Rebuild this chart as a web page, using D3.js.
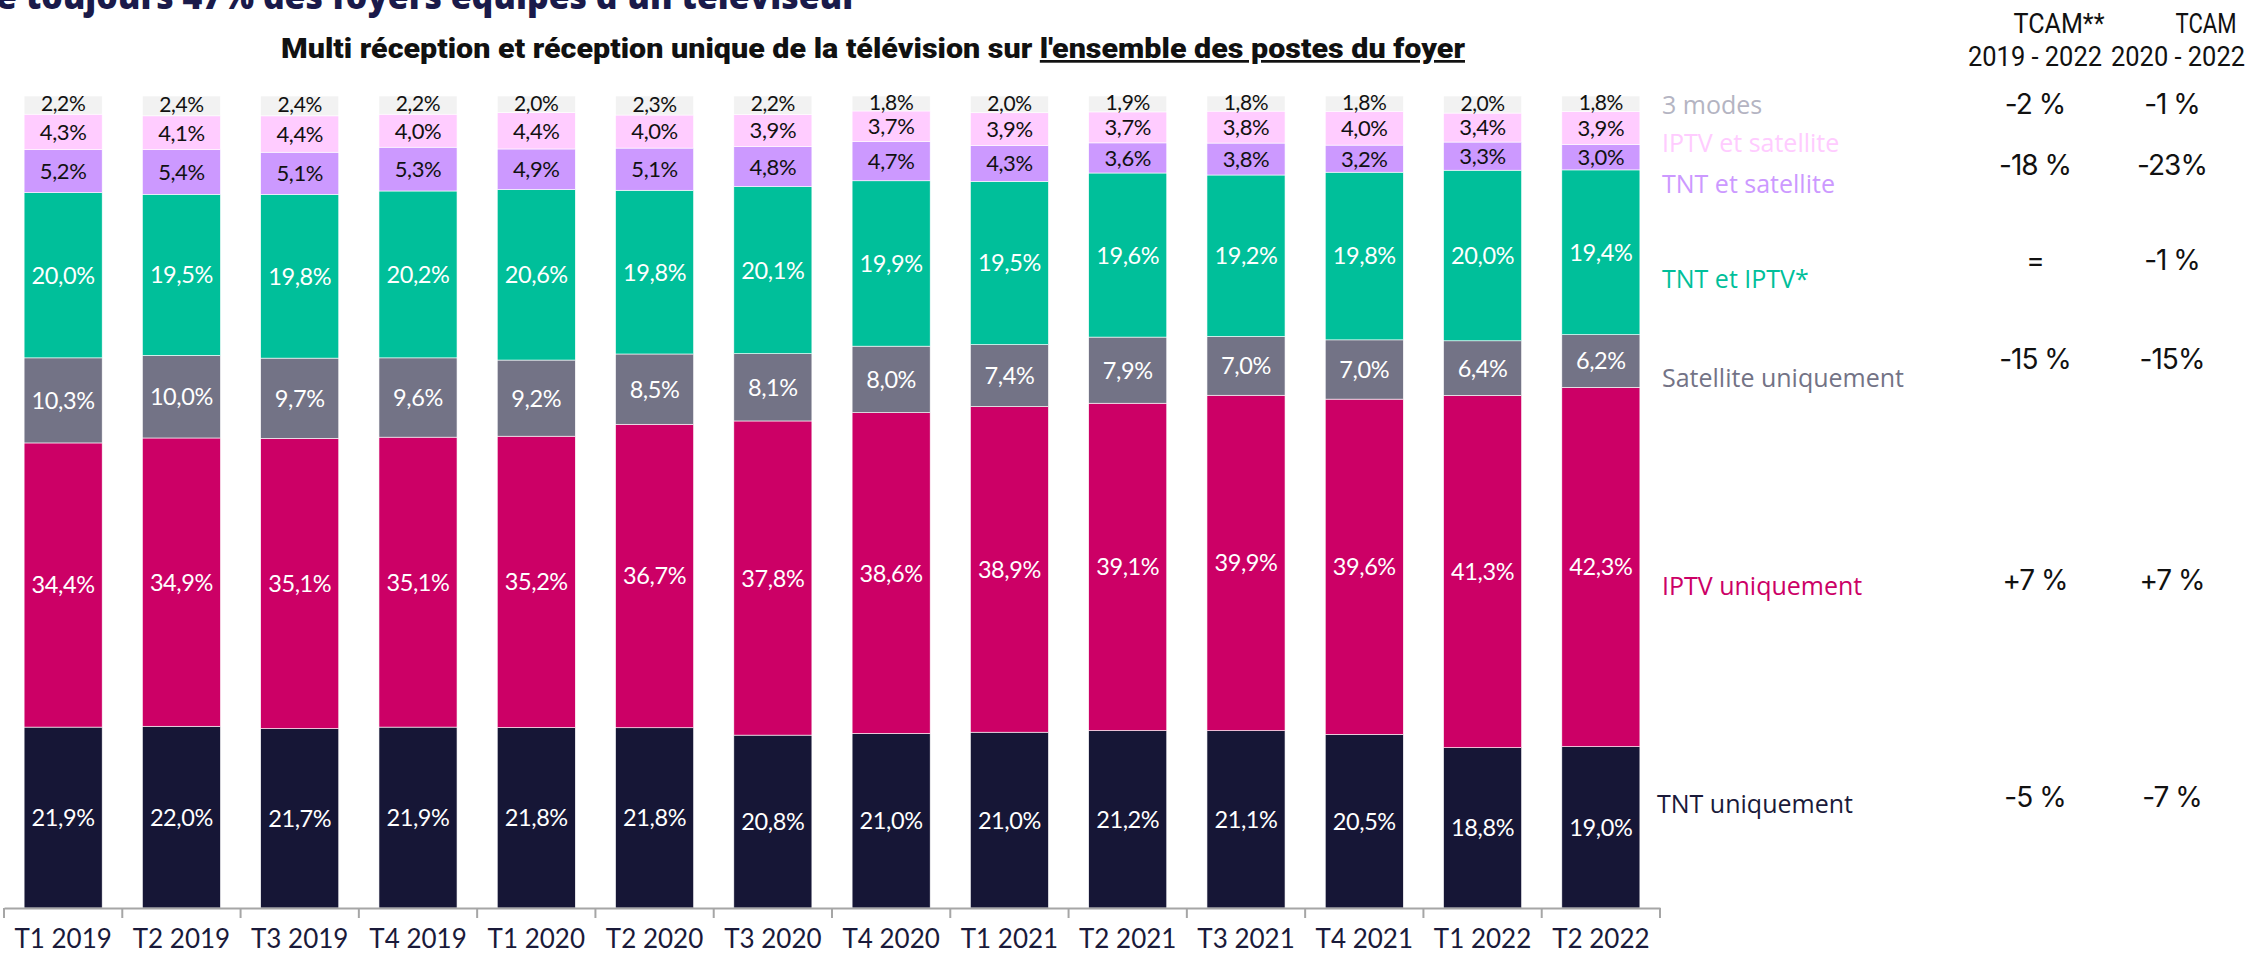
<!DOCTYPE html>
<html><head><meta charset="utf-8">
<script src="https://cdn.jsdelivr.net/npm/d3@7"></script>
<style>
html,body{margin:0;padding:0;background:#fff;overflow:hidden}
svg{display:block}
</style></head>
<body>
<svg id="chart" width="2263" height="955"></svg>
<script>
// ---------- DATA ----------
const categories = ["T1 2019","T2 2019","T3 2019","T4 2019","T1 2020","T2 2020","T3 2020","T4 2020","T1 2021","T2 2021","T3 2021","T4 2021","T1 2022","T2 2022"];
const seriesNames = ["TNT uniquement","IPTV uniquement","Satellite uniquement","TNT et IPTV*","TNT et satellite","IPTV et satellite","3 modes"];
const tntOnly    = [21.9,22.0,21.7,21.9,21.8,21.8,20.8,21.0,21.0,21.2,21.1,20.5,18.8,19.0];
const iptvOnly   = [34.4,34.9,35.1,35.1,35.2,36.7,37.8,38.6,38.9,39.1,39.9,39.6,41.3,42.3];
const satOnly    = [10.3,10.0,9.7,9.6,9.2,8.5,8.1,8.0,7.4,7.9,7.0,7.0,6.4,6.2];
const tntIptv    = [20.0,19.5,19.8,20.2,20.6,19.8,20.1,19.9,19.5,19.6,19.2,19.8,20.0,19.4];
const tntSat     = [5.2,5.4,5.1,5.3,4.9,5.1,4.8,4.7,4.3,3.6,3.8,3.2,3.3,3.0];
const iptvSat    = [4.3,4.1,4.4,4.0,4.4,4.0,3.9,3.7,3.9,3.7,3.8,4.0,3.4,3.9];
const threeModes = [2.2,2.4,2.4,2.2,2.0,2.3,2.2,1.8,2.0,1.9,1.8,1.8,2.0,1.8];
const tcamHeaders = [["TCAM**","2019 - 2022"],["TCAM","2020 - 2022"]];
const tcam2019_2022 = ["-5 %","+7 %","-15 %","=","-18 %","","-2 %"];
const tcam2020_2022 = ["-7 %","+7 %","-15%","-1 %","-23%","","-1 %"];
const titleMain = "Multi réception et réception unique de la télévision sur ";
const titleUnder = "l'ensemble des postes du foyer";
const topText = "e toujours 47% des foyers équipés d'un téléviseur";

// ---------- STYLES ----------
const fills = ["#161636","#cc0066","#737386","#00bf9a","#cc99ff","#ffccff","#f2f2f2"];
const legendColors = ["#1a1a3a","#cc0066","#737386","#00bf9a","#cc99ff","#ffccff","#b4b4c2"];
const labelColors = ["#ffffff","#ffffff","#ffffff","#ffffff","#111111","#111111","#111111"];
const labelSizes = [23.5,23.5,23.5,23.5,22,22,21];

const svg = d3.select("#chart");
const labelFont = "Lato";
const axisSize = 26;

const allSeries = [tntOnly,iptvOnly,satOnly,tntIptv,tntSat,iptvSat,threeModes];
const rows = categories.map((c,i)=>{
  const r={cat:c};
  seriesNames.forEach((s,k)=>r[s]=allSeries[k][i]);
  return r;
});
const stack = d3.stack().keys(seriesNames).offset(d3.stackOffsetExpand);
const layers = stack(rows);

const x = d3.scaleBand().domain(categories).range([4,1660]).paddingInner(0.34).paddingOuter(0.17);
const y = d3.scaleLinear().domain([0,1]).range([908,96]);

// bars
const g = svg.append("g");
layers.forEach((layer,k)=>{
  g.append("g").selectAll("rect").data(layer).join("rect")
    .attr("x",d=>x(d.data.cat))
    .attr("width",x.bandwidth())
    .attr("y",d=>y(d[1]))
    .attr("height",d=>y(d[0])-y(d[1]))
    .attr("fill",fills[k])
    .attr("stroke","#ffffff").attr("stroke-width",0.6);
});
const fmt = v => d3.format(".1f")(v).replace(".",",")+"%";
layers.forEach((layer,k)=>{
  g.append("g").selectAll("text").data(layer).join("text")
    .attr("x",d=>x(d.data.cat)+x.bandwidth()/2)
    .attr("y",d=>(y(d[0])+y(d[1]))/2)
    .attr("dy", k===6 ? "0.30em" : "0.36em")
    .attr("text-anchor","middle")
    .attr("font-family",labelFont)
    .attr("font-size",labelSizes[k])
    .attr("letter-spacing",-0.4)
    .attr("fill",labelColors[k])
    .text(d=>fmt(d.data[seriesNames[k]]));
});

// x axis
const axisG = svg.append("g").attr("transform","translate(0,908)")
  .call(d3.axisBottom(x).tickSize(0).tickPadding(24));
axisG.select(".domain").attr("stroke","#a6a6a6").attr("stroke-width",2);
axisG.selectAll(".tick text").attr("font-family",labelFont).attr("font-size",axisSize).attr("fill","#1a1a3a").attr("dy","0.62em");
const seps = categories.map(c=>x(c)-x.step()*x.paddingInner()/2).concat([x.range()[1]]);
axisG.append("g").selectAll("line").data(seps).join("line")
  .attr("x1",d=>d).attr("x2",d=>d).attr("y1",0).attr("y2",10)
  .attr("stroke","#a6a6a6").attr("stroke-width",2);

// legend (series names at right)
const legendY = [804,586,378,279,184,143,105];
const legendX = [1657,1662,1662,1662,1662,1662,1662];
svg.append("g").selectAll("text").data(seriesNames).join("text")
  .attr("x",(d,i)=>legendX[i]).attr("y",(d,i)=>legendY[i]).attr("dy","0.35em")
  .attr("font-family","'Open Sans'").attr("font-size",25)
  .attr("fill",(d,i)=>legendColors[i]).text(d=>d);

// TCAM columns
const colX = [2035,2172];
const tcamY = [797,580,359,260,165,0,104];
[tcam2019_2022,tcam2020_2022].forEach((arr,ci)=>{
  svg.append("g").selectAll("text").data(arr).join("text")
    .attr("x",colX[ci]).attr("y",(d,i)=>tcamY[i]).attr("dy","0.36em")
    .attr("text-anchor","middle").attr("font-family","Inter").attr("font-size",28).attr("fill","#111")
    .attr("letter-spacing",-1)
    .text(d=>d);
});
const hdrX = [[2059,2035],[2206,2178]];
const hdrW = [[91,134],[61,134]];
tcamHeaders.forEach((h,ci)=>{
  h.forEach((t,li)=>{
    svg.append("text").attr("x",hdrX[ci][li]).attr("y",li===0?33:66)
      .attr("text-anchor","middle").attr("font-family","Roboto").attr("font-size",27)
      .attr("fill","#111").attr("textLength",hdrW[ci][li]).attr("lengthAdjust","spacingAndGlyphs").text(t);
  });
});

// title
const title = svg.append("text").attr("x",281).attr("y",58)
  .attr("font-family","Roboto").attr("font-weight",900).attr("font-size",27).attr("fill","#111")
  .attr("textLength",1184).attr("lengthAdjust","spacingAndGlyphs");
title.append("tspan").text(titleMain);
title.append("tspan").attr("text-decoration","underline").text(titleUnder);

// top cut-off text (partially outside the frame, as in the reference)
svg.append("text").attr("x",-4).attr("y",9)
  .attr("font-family","'Open Sans'").attr("font-weight",800).attr("font-size",36).attr("fill","#1a1a4a")
  .attr("textLength",862).attr("lengthAdjust","spacingAndGlyphs").text(topText);
</script>
</body></html>
